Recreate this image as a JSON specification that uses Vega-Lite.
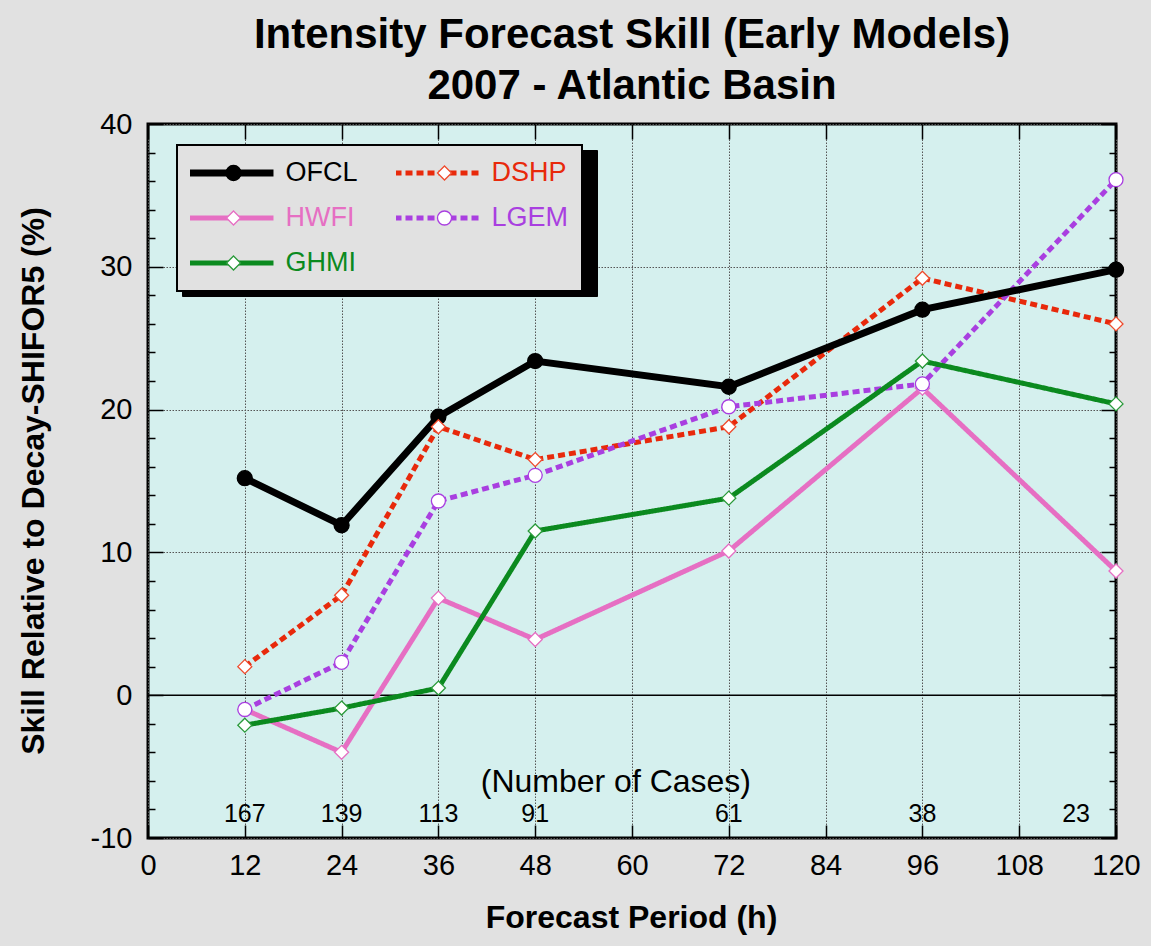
{
  "$schema": "https://vega.github.io/schema/vega-lite/v6.json",
  "width": 968,
  "height": 714,
  "autosize": {"type": "none"},
  "padding": {"left": 148, "top": 124, "right": 35, "bottom": 108},
  "background": "#e1e1e1",
  "config": {
    "font": "Liberation Sans",
    "view": {"fill": "#d5f0ee", "stroke": "black", "strokeWidth": 3},
    "legend": {
      "columns": 2, "symbolSize": 900, "padding": 13, "labelFontSize": 27,
      "labelFont": "Liberation Sans", "labelOffset": 41, "rowPadding": 15,
      "columnPadding": 38, "clipHeight": 30, "symbolOffset": 27.5, "labelLimit": 300,
      "gridAlign": "each"
    }
  },
  "title": {
    "text": ["Intensity Forecast Skill (Early Models)", "2007 - Atlantic Basin"],
    "fontSize": 42, "fontWeight": "bold", "color": "black", "anchor": "middle",
    "lineHeight": 51, "offset": 2
  },
  "datasets": {
    "skill": [
      {"model": "OFCL", "h": 12, "skill": 15.2}, {"model": "OFCL", "h": 24, "skill": 11.9},
      {"model": "OFCL", "h": 36, "skill": 19.5}, {"model": "OFCL", "h": 48, "skill": 23.4},
      {"model": "OFCL", "h": 72, "skill": 21.6}, {"model": "OFCL", "h": 96, "skill": 27.0},
      {"model": "OFCL", "h": 120, "skill": 29.8},
      {"model": "DSHP", "h": 12, "skill": 2.0}, {"model": "DSHP", "h": 24, "skill": 7.0},
      {"model": "DSHP", "h": 36, "skill": 18.8}, {"model": "DSHP", "h": 48, "skill": 16.5},
      {"model": "DSHP", "h": 72, "skill": 18.8}, {"model": "DSHP", "h": 96, "skill": 29.2},
      {"model": "DSHP", "h": 120, "skill": 26.0},
      {"model": "HWFI", "h": 12, "skill": -1.0}, {"model": "HWFI", "h": 24, "skill": -4.0},
      {"model": "HWFI", "h": 36, "skill": 6.8}, {"model": "HWFI", "h": 48, "skill": 3.9},
      {"model": "HWFI", "h": 72, "skill": 10.1}, {"model": "HWFI", "h": 96, "skill": 21.5},
      {"model": "HWFI", "h": 120, "skill": 8.7},
      {"model": "LGEM", "h": 12, "skill": -1.0}, {"model": "LGEM", "h": 24, "skill": 2.3},
      {"model": "LGEM", "h": 36, "skill": 13.6}, {"model": "LGEM", "h": 48, "skill": 15.4},
      {"model": "LGEM", "h": 72, "skill": 20.2}, {"model": "LGEM", "h": 96, "skill": 21.8},
      {"model": "LGEM", "h": 120, "skill": 36.1},
      {"model": "GHMI", "h": 12, "skill": -2.1}, {"model": "GHMI", "h": 24, "skill": -0.9},
      {"model": "GHMI", "h": 36, "skill": 0.5}, {"model": "GHMI", "h": 48, "skill": 11.5},
      {"model": "GHMI", "h": 72, "skill": 13.8}, {"model": "GHMI", "h": 96, "skill": 23.4},
      {"model": "GHMI", "h": 120, "skill": 20.4}
    ],
    "cases": [
      {"h": 12, "n": 167}, {"h": 24, "n": 139}, {"h": 36, "n": 113}, {"h": 48, "n": 91},
      {"h": 72, "n": 61}, {"h": 96, "n": 38}, {"h": 120, "n": 23}
    ],
    "note": [{"label": "(Number of Cases)", "zero": 0}]
  },
  "resolve": {"axis": {"x": "independent", "y": "independent"}},
  "layer": [
    {
      "data": {"name": "skill"},
      "mark": {"type": "point", "opacity": 0},
      "encoding": {
        "x": {"field": "h", "type": "quantitative", "scale": {"domain": [0, 120], "nice": false}, "axis": null},
        "y": {"field": "skill", "type": "quantitative", "scale": {"domain": [-10, 40], "nice": false}, "axis": null},
        "size": {
          "field": "model", "type": "nominal",
          "scale": {"domain": ["HWFI", "OFCL", "GHMI", "LGEM", "DSHP"], "range": [900, 900]},
          "legend": {
            "title": null, "orient": "none", "legendX": 34, "legendY": 26,
            "symbolType": "M-3.07,0M3.07,0", "fillColor": "black", "strokeColor": "black",
            "labelColor": "transparent", "symbolFillColor": "transparent", "symbolStrokeColor": "transparent"
          }
        }
      }
    },
    {
      "data": {"name": "note"},
      "mark": {"type": "rule", "color": "black", "strokeWidth": 1.5},
      "encoding": {"y": {"field": "zero", "type": "quantitative", "scale": {"domain": [-10, 40], "nice": false}, "axis": null}}
    },
    {
      "data": {"name": "skill"},
      "transform": [{"filter": "datum.model !== 'OFCL'"}],
      "mark": {"type": "line", "strokeWidth": 5, "strokeCap": "butt"},
      "encoding": {
        "x": {
          "field": "h", "type": "quantitative", "scale": {"domain": [0, 120], "nice": false},
          "axis": {
            "orient": "bottom", "values": [0, 12, 24, 36, 48, 60, 72, 84, 96, 108, 120],
            "tickSize": -13, "tickColor": "black", "tickWidth": 1.5, "domain": false,
            "labelFontSize": 29, "labelColor": "black", "labelPadding": 26, "labelFlush": false,
            "grid": true, "gridColor": "#555555", "gridDash": [1.5, 1.5], "gridWidth": 1,
            "title": "Forecast Period (h)", "titleFontSize": 32, "titleFontWeight": "bold",
            "titleColor": "black", "titleX": 483, "titleY": 89.5, "titleBaseline": "alphabetic",
            "titleAlign": "center"
          }
        },
        "y": {
          "field": "skill", "type": "quantitative", "scale": {"domain": [-10, 40], "nice": false},
          "axis": {
            "orient": "left",
            "values": [-10, -8, -6, -4, -2, 0, 2, 4, 6, 8, 10, 12, 14, 16, 18, 20, 22, 24, 26, 28, 30, 32, 34, 36, 38, 40],
            "labelExpr": "datum.value % 10 === 0 ? ('' + datum.value) : ''",
            "tickSize": {"condition": {"test": "datum.value % 10 === 0", "value": -15}, "value": -7},
            "tickColor": "black", "tickWidth": 1.5, "domain": false,
            "labelFontSize": 29, "labelColor": "black", "labelPadding": 31, "labelFlush": false,
            "grid": true, "gridColor": "#555555", "gridDash": [1.5, 1.5], "gridWidth": 1,
            "gridOpacity": {"condition": {"test": "datum.value % 10 === 0 && datum.value !== 0", "value": 1}, "value": 0},
            "title": "Skill Relative to Decay-SHIFOR5 (%)", "titleFontSize": 32, "titleFontWeight": "bold",
            "titleColor": "black", "titleX": -105, "titleY": 356.5, "titleBaseline": "alphabetic",
            "titleAlign": "center", "titleAngle": 270
          }
        },
        "color": {
          "field": "model", "type": "nominal",
          "scale": {"domain": ["OFCL", "HWFI", "GHMI", "DSHP", "LGEM"], "range": ["#000000", "#e66fc3", "#0b8a1f", "#e8290b", "#a93fe0"]},
          "legend": {
            "title": null, "orient": "none", "legendX": 29, "legendY": 21,
            "symbolType": "M-2.833,0L2.833,0", "fillColor": "#e1e1e1", "strokeColor": "black",
            "encode": {
              "legend": {"update": {"strokeWidth": {"value": 2}}},
              "symbols": {"update": {
                "strokeWidth": {"signal": "datum.value === 'OFCL' ? 7 : 5"},
                "strokeDash": {"signal": "(datum.value === 'DSHP' || datum.value === 'LGEM') ? [7, 4] : [1, 0]"},
                "stroke": {"scale": "color", "field": "value"},
                "fill": {"value": "transparent"},
                "opacity": {"value": 1}
              }},
              "labels": {"update": {"fill": {"scale": "color", "field": "value"}}}
            }
          }
        },
        "strokeDash": {
          "field": "model", "type": "nominal",
          "scale": {"domain": ["OFCL", "DSHP", "HWFI", "LGEM", "GHMI"], "range": [[1, 0], [7, 4], [1, 0], [7, 4], [1, 0]]},
          "legend": null
        }
      }
    },
    {
      "data": {"name": "skill"},
      "transform": [{"filter": "datum.model === 'OFCL'"}],
      "mark": {"type": "line", "strokeWidth": 7, "color": "black"},
      "encoding": {
        "x": {"field": "h", "type": "quantitative", "scale": {"domain": [0, 120], "nice": false}, "axis": null},
        "y": {"field": "skill", "type": "quantitative", "scale": {"domain": [-10, 40], "nice": false}, "axis": null}
      }
    },
    {
      "data": {"name": "skill"},
      "mark": {"type": "point", "size": 900, "strokeWidth": 1.3, "opacity": 1},
      "encoding": {
        "x": {
          "field": "h", "type": "quantitative", "scale": {"domain": [0, 120], "nice": false},
          "axis": {
            "orient": "top", "values": [0, 12, 24, 36, 48, 60, 72, 84, 96, 108, 120],
            "tickSize": -15, "tickColor": "black", "tickWidth": 1.5, "domain": false,
            "labels": false, "grid": false, "title": null
          }
        },
        "y": {
          "field": "skill", "type": "quantitative", "scale": {"domain": [-10, 40], "nice": false},
          "axis": {
            "orient": "right",
            "values": [-10, -8, -6, -4, -2, 0, 2, 4, 6, 8, 10, 12, 14, 16, 18, 20, 22, 24, 26, 28, 30, 32, 34, 36, 38, 40],
            "tickSize": {"condition": {"test": "datum.value % 10 === 0", "value": -15}, "value": -7},
            "tickColor": "black", "tickWidth": 1.5, "domain": false,
            "labels": false, "grid": false, "title": null
          }
        },
        "shape": {
          "field": "model", "type": "nominal",
          "sort": ["OFCL", "HWFI", "GHMI", "DSHP", "LGEM"],
          "scale": {"range": [
            "M-3.07,0M3.07,0M0.5,0A0.5,0.5,0,1,1,-0.5,0A0.5,0.5,0,1,1,0.5,0Z",
            "M-3.07,0M3.07,0M0,-0.467L0.467,0L0,0.467L-0.467,0Z",
            "M-3.07,0M3.07,0M0,-0.467L0.467,0L0,0.467L-0.467,0Z",
            "M-3.07,0M3.07,0M0,-0.467L0.467,0L0,0.467L-0.467,0Z",
            "M-3.07,0M3.07,0M0.467,0A0.467,0.467,0,1,1,-0.467,0A0.467,0.467,0,1,1,0.467,0Z"
          ]},
          "legend": {
            "title": null, "orient": "none", "legendX": 29, "legendY": 21,
            "fillColor": "transparent", "strokeColor": "transparent", "labelColor": "transparent",
            "symbolFillColor": "white", "symbolStrokeColor": "black", "symbolStrokeWidth": 1.3, "symbolOpacity": 1,
            "encode": {
              "symbols": {"update": {
                "fill": {"signal": "datum.value === 'OFCL' ? '#000000' : '#ffffff'"},
                "stroke": {"scale": "stroke", "field": "value"},
                "strokeWidth": {"value": 1.3},
                "opacity": {"value": 1},
                "fillOpacity": {"value": 1}
              }}
            }
          }
        },
        "stroke": {
          "field": "model", "type": "nominal",
          "scale": {"domain": ["OFCL", "DSHP", "HWFI", "LGEM", "GHMI"], "range": ["#000000", "#ef4b2d", "#e66fc3", "#a93fe0", "#2a9a3a"]},
          "legend": null
        },
        "fill": {
          "field": "model", "type": "nominal",
          "scale": {"domain": ["OFCL", "DSHP", "HWFI", "LGEM", "GHMI"], "range": ["#000000", "#ffffff", "#ffffff", "#ffffff", "#ffffff"]},
          "legend": null
        }
      }
    },
    {
      "data": {"name": "cases"},
      "transform": [{"filter": "datum.h < 120"}],
      "mark": {"type": "text", "fontSize": 25, "baseline": "middle", "align": "center", "color": "black"},
      "encoding": {
        "x": {"field": "h", "type": "quantitative", "scale": {"domain": [0, 120], "nice": false}, "axis": null},
        "y": {"datum": -8.3, "type": "quantitative", "axis": null},
        "text": {"field": "n", "type": "quantitative"}
      }
    },
    {
      "data": {"name": "cases"},
      "transform": [{"filter": "datum.h === 120"}],
      "mark": {"type": "text", "fontSize": 25, "baseline": "middle", "align": "right", "dx": -26, "color": "black"},
      "encoding": {
        "x": {"field": "h", "type": "quantitative", "scale": {"domain": [0, 120], "nice": false}, "axis": null},
        "y": {"datum": -8.3, "type": "quantitative", "axis": null},
        "text": {"field": "n", "type": "quantitative"}
      }
    },
    {
      "data": {"name": "note"},
      "mark": {"type": "text", "fontSize": 32, "baseline": "middle", "align": "center", "color": "black", "fontWeight": "normal"},
      "encoding": {
        "x": {"datum": 58, "type": "quantitative", "axis": null},
        "y": {"datum": -6.05, "type": "quantitative", "axis": null},
        "text": {"field": "label", "type": "nominal"}
      }
    }
  ]
}
